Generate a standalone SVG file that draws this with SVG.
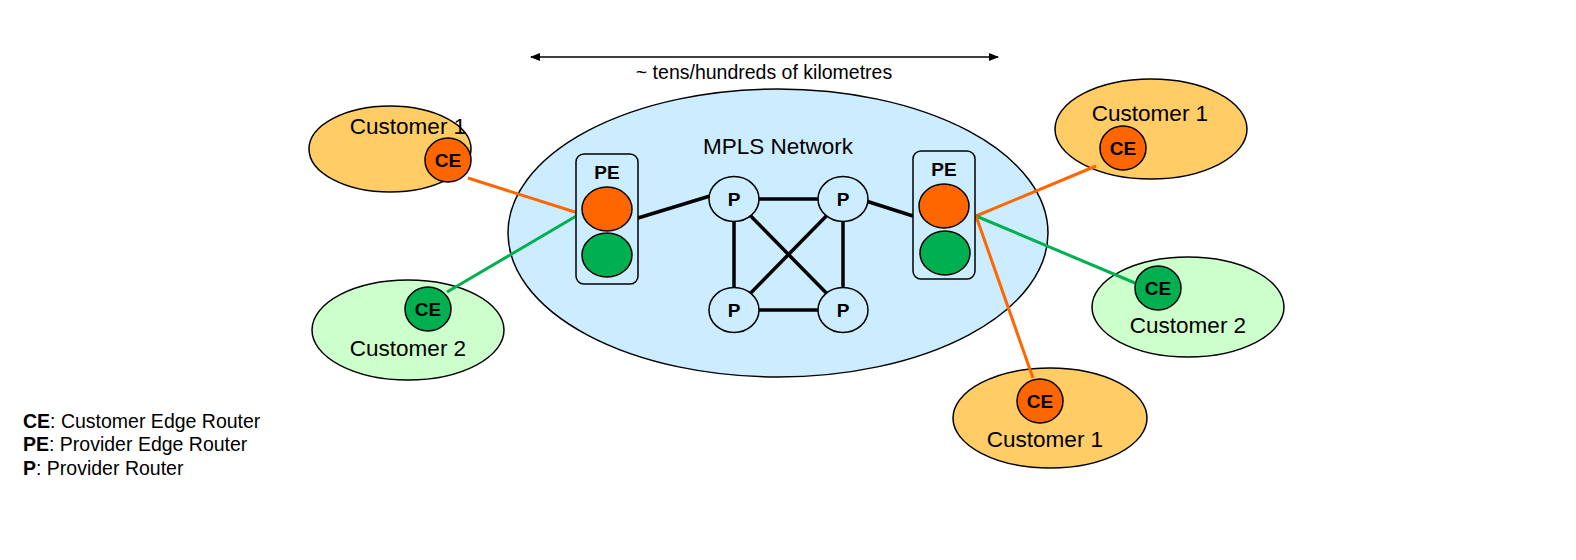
<svg xmlns="http://www.w3.org/2000/svg" width="1576" height="560" viewBox="0 0 1576 560">
<defs>
<marker id="ah" markerWidth="10" markerHeight="8" refX="9" refY="4" orient="auto-start-reverse" markerUnits="userSpaceOnUse"><path d="M0,0 L10,4 L0,8 z" fill="#000"/></marker>
<style>
text{font-family:"Liberation Sans",Arial,sans-serif;fill:#000}
.lbl{font-size:22.5px;text-anchor:middle}
.b{font-size:19px;font-weight:bold;text-anchor:middle}
.c1{fill:#FFCC66;stroke:#000;stroke-width:1.5}
.c2{fill:#CCFFCC;stroke:#000;stroke-width:1.5}
.or{fill:#FF6600;stroke:#000;stroke-width:1.5}
.gr{fill:#00B050;stroke:#000;stroke-width:1.5}
.p{fill:#CCECFF;stroke:#000;stroke-width:1.5}
.lk{stroke:#000;stroke-width:3.5;fill:none}
.lo{stroke:#FF6600;stroke-width:3;fill:none}
.lg{stroke:#00B050;stroke-width:3;fill:none}
.leg{font-size:19.5px}
</style>
</defs>
<rect width="1576" height="560" fill="#fff"/>
<g id="mpls">
<ellipse cx="778" cy="233" rx="270" ry="144" fill="#CCECFF" stroke="#000" stroke-width="1.5"/>
<text class="lbl" x="778" y="154">MPLS Network</text>
</g>
<g id="distance">
<line x1="531" y1="57" x2="998" y2="57" stroke="#000" stroke-width="1.5" marker-start="url(#ah)" marker-end="url(#ah)"/>
<text x="764" y="79" font-size="19.5" text-anchor="middle">~ tens/hundreds of kilometres</text>
</g>
<g id="cust1-left"><ellipse class="c1" cx="390" cy="149" rx="81" ry="43"/><text class="lbl" x="408" y="134">Customer 1</text></g>
<g id="cust2-left"><ellipse class="c2" cx="408" cy="330" rx="96" ry="50"/><text class="lbl" x="408" y="356">Customer 2</text></g>
<g id="cust1-topright"><ellipse class="c1" cx="1151" cy="129" rx="96" ry="50"/><text class="lbl" x="1150" y="121">Customer 1</text></g>
<g id="cust2-right"><ellipse class="c2" cx="1188" cy="307" rx="96" ry="50"/><text class="lbl" x="1188" y="333">Customer 2</text></g>
<g id="cust1-bottom"><ellipse class="c1" cx="1050" cy="418" rx="97" ry="50"/><text class="lbl" x="1045" y="447">Customer 1</text></g>
<g id="connectors">
<line class="lo" x1="468" y1="178" x2="578" y2="213"/>
<line class="lg" x1="447" y1="292" x2="578" y2="215"/>
<line class="lo" x1="976" y1="216" x2="1096" y2="166"/>
<line class="lg" x1="976" y1="216" x2="1135" y2="283"/>
<line class="lo" x1="976" y1="216" x2="1033" y2="378"/>
<line class="lk" x1="638" y1="218" x2="710" y2="196"/>
<line class="lk" x1="866" y1="201" x2="913" y2="216"/>
<line class="lk" x1="734" y1="199" x2="843" y2="199"/>
<line class="lk" x1="734" y1="199" x2="734" y2="310"/>
<line class="lk" x1="734" y1="199" x2="843" y2="310"/>
<line class="lk" x1="843" y1="199" x2="734" y2="310"/>
<line class="lk" x1="843" y1="199" x2="843" y2="310"/>
<line class="lk" x1="734" y1="310" x2="843" y2="310"/>
</g>
<g id="pe-left">
<rect x="576" y="154" width="62" height="130" rx="8" fill="#CCECFF" stroke="#000" stroke-width="1.5"/>
<text class="b" x="607" y="179">PE</text>
<ellipse class="or" cx="607" cy="209" rx="25" ry="22"/>
<ellipse class="gr" cx="607" cy="255" rx="25" ry="22"/>
</g>
<g id="pe-right">
<rect x="913" y="151" width="62" height="128" rx="8" fill="#CCECFF" stroke="#000" stroke-width="1.5"/>
<text class="b" x="944" y="176">PE</text>
<ellipse class="or" cx="944" cy="206" rx="25" ry="22"/>
<ellipse class="gr" cx="945" cy="253" rx="25" ry="22"/>
</g>
<g id="p1"><ellipse class="p" cx="734" cy="199" rx="25" ry="22.5"/><text class="b" x="734" y="206">P</text></g>
<g id="p2"><ellipse class="p" cx="843" cy="199" rx="25" ry="22.5"/><text class="b" x="843" y="206">P</text></g>
<g id="p3"><ellipse class="p" cx="734" cy="310" rx="25" ry="22.5"/><text class="b" x="734" y="317">P</text></g>
<g id="p4"><ellipse class="p" cx="843" cy="310" rx="25" ry="22.5"/><text class="b" x="843" y="317">P</text></g>
<g id="ce-left1"><ellipse class="or" cx="448" cy="160" rx="23" ry="22"/><text class="b" x="448" y="167">CE</text></g>
<g id="ce-left2"><ellipse class="gr" cx="428" cy="309" rx="23" ry="22"/><text class="b" x="428" y="316">CE</text></g>
<g id="ce-topright"><ellipse class="or" cx="1123" cy="148" rx="23" ry="22"/><text class="b" x="1123" y="155">CE</text></g>
<g id="ce-right"><ellipse class="gr" cx="1158" cy="288" rx="23" ry="22"/><text class="b" x="1158" y="295">CE</text></g>
<g id="ce-bottom"><ellipse class="or" cx="1040" cy="401" rx="23" ry="22"/><text class="b" x="1040" y="408">CE</text></g>
<g id="legend">
<text class="leg" x="23" y="428"><tspan font-weight="bold">CE</tspan>: Customer Edge Router</text>
<text class="leg" x="23" y="451"><tspan font-weight="bold">PE</tspan>: Provider Edge Router</text>
<text class="leg" x="23" y="475"><tspan font-weight="bold">P</tspan>: Provider Router</text>
</g>
</svg>
